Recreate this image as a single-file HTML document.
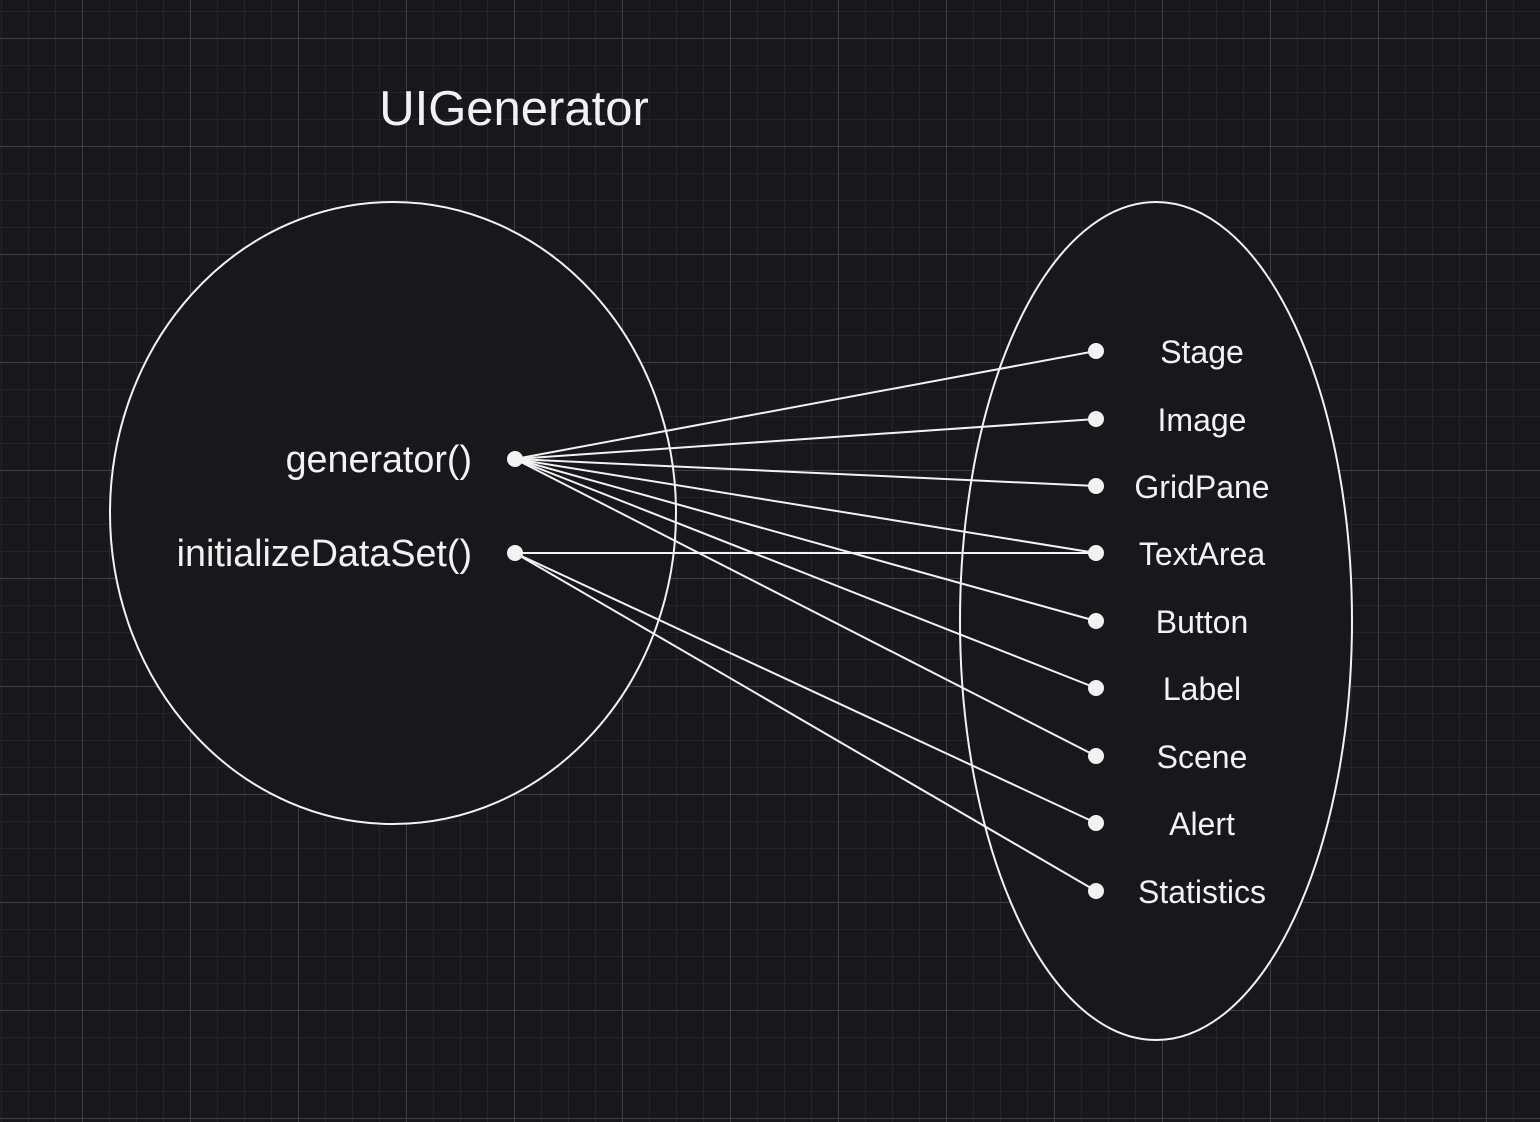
<!DOCTYPE html>
<html><head><meta charset="utf-8"><style>
html,body{margin:0;padding:0;background:#18171c;}
svg{display:block}
</style></head><body>
<svg width="1540" height="1122" xmlns="http://www.w3.org/2000/svg">
<defs>
<pattern id="minor" x="1" y="11" width="27" height="27" patternUnits="userSpaceOnUse">
<path d="M0 0H27M0 0V27" stroke="#252429" stroke-width="2" fill="none"/>
</pattern>
<pattern id="major" x="82" y="38" width="108" height="108" patternUnits="userSpaceOnUse">
<path d="M0 0H108M0 0V108" stroke="#48474c" stroke-width="1.5" fill="none"/>
</pattern>
</defs>
<rect width="1540" height="1122" fill="#18171c"/>
<rect width="1540" height="1122" fill="url(#minor)"/>
<rect width="1540" height="1122" fill="url(#major)"/>
<g fill="#18171c" stroke="#f2f2f2" stroke-width="2">
<ellipse cx="393" cy="513" rx="283" ry="311"/>
<ellipse cx="1156" cy="621" rx="196" ry="419"/>
</g>
<g stroke="#f2f2f2" stroke-width="2">
<line x1="515" y1="459" x2="1096" y2="351"/>
<line x1="515" y1="459" x2="1096" y2="419"/>
<line x1="515" y1="459" x2="1096" y2="486"/>
<line x1="515" y1="459" x2="1096" y2="553"/>
<line x1="515" y1="459" x2="1096" y2="621"/>
<line x1="515" y1="459" x2="1096" y2="688"/>
<line x1="515" y1="459" x2="1096" y2="756"/>
<line x1="515" y1="553" x2="1096" y2="553"/>
<line x1="515" y1="553" x2="1096" y2="823"/>
<line x1="515" y1="553" x2="1096" y2="891"/>
</g>
<g fill="#f2f2f2">
<circle cx="515" cy="459" r="8"/><circle cx="515" cy="553" r="8"/>
<circle cx="1096" cy="351" r="8"/><circle cx="1096" cy="419" r="8"/><circle cx="1096" cy="486" r="8"/>
<circle cx="1096" cy="553" r="8"/><circle cx="1096" cy="621" r="8"/><circle cx="1096" cy="688" r="8"/>
<circle cx="1096" cy="756" r="8"/><circle cx="1096" cy="823" r="8"/><circle cx="1096" cy="891" r="8"/>
</g>
<g font-family="Liberation Sans, sans-serif" fill="#f2f2f2">
<text x="514" y="125" font-size="49" text-anchor="middle">UIGenerator</text>
<text x="472" y="472" font-size="37.7" text-anchor="end">generator()</text>
<text x="472" y="566" font-size="37.7" text-anchor="end">initializeDataSet()</text>
<g font-size="32" text-anchor="middle">
<text x="1202" y="363">Stage</text>
<text x="1202" y="431">Image</text>
<text x="1202" y="498">GridPane</text>
<text x="1202" y="565">TextArea</text>
<text x="1202" y="633">Button</text>
<text x="1202" y="700">Label</text>
<text x="1202" y="768">Scene</text>
<text x="1202" y="835">Alert</text>
<text x="1202" y="903">Statistics</text>
</g>
</g>
</svg>
</body></html>
